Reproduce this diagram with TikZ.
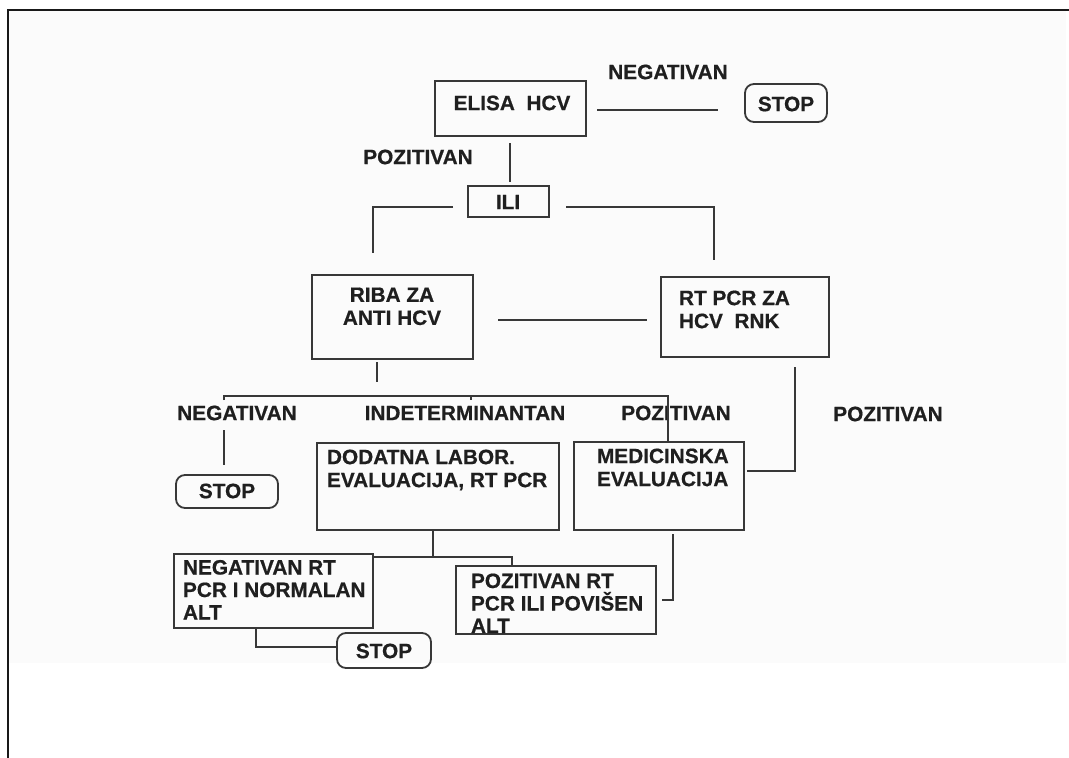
\documentclass[tikz,border=0pt]{standalone}
\usepackage{fontspec}
\setmainfont{Liberation Sans}[BoldFeatures={FakeBold=0.6}]
\begin{document}
\begin{tikzpicture}[x=1pt,y=-1pt,
  box/.style={draw=black!78, line width=1.8pt, inner sep=0pt, outer sep=0pt},
  stopbox/.style={box, rounded corners=9pt},
  lbl/.style={inner sep=0pt, outer sep=0pt, text=black!88, font=\fontsize{20.8}{23}\selectfont\bfseries},
  mtxt/.style={lbl, align=left, anchor=north west},
  conn/.style={draw=black!78, line width=1.8pt}]
\useasboundingbox (0,0) rectangle (1069,758);
\fill[black!1.5] (9,11) rectangle (1066,663);
\draw[line width=1.6pt, black!90] (8,758) -- (8,10) -- (1069,10);

% boxes
\node[box, minimum width=151pt, minimum height=55pt] (elisa) at (510.5,108.5) {};
\node[stopbox, minimum width=82pt, minimum height=38pt] (stop1) at (786,103) {};
\node[box, minimum width=81pt, minimum height=31pt] (ili) at (508.5,201.5) {};
\node[box, minimum width=161pt, minimum height=84pt] (riba) at (392.5,317) {};
\node[box, minimum width=168pt, minimum height=80pt] (rtpcr) at (745,317) {};
\node[stopbox, minimum width=102pt, minimum height=33pt] (stop2) at (227,491.5) {};
\node[box, minimum width=242pt, minimum height=87pt] (dod) at (438,486.5) {};
\node[box, minimum width=170pt, minimum height=88pt] (med) at (659,486) {};
\node[box, minimum width=199pt, minimum height=74pt] (negrt) at (273.5,591) {};
\node[box, minimum width=200pt, minimum height=68pt] (pozrt) at (556,600) {};
\node[stopbox, minimum width=94pt, minimum height=35pt] (stop3) at (384,650.5) {};

% texts in boxes
\node[lbl] (elisa-t) at (512,103) {ELISA\ \ HCV};
\node[lbl] (stop1-t) at (786,104) {STOP};
\node[lbl] (ili-t) at (508,202) {ILI};
\node[lbl, align=center, anchor=north] (riba-t) at (392,287.6) {RIBA ZA\\ANTI HCV};
\node[mtxt] (rtpcr-t) at (679,290.6) {RT PCR ZA\\HCV\ \ RNK};
\node[lbl] (stop2-t) at (227,491) {STOP};
\node[mtxt] (dod-t) at (327,449.6) {DODATNA LABOR.\\EVALUACIJA, RT PCR};
\node[mtxt] (med-t) at (597,448.6) {MEDICINSKA\\EVALUACIJA};
\node[mtxt, font=\fontsize{20.8}{22.5}\selectfont\bfseries] (negrt-t) at (183,560) {NEGATIVAN RT\\PCR I NORMALAN\\ALT};
\node[mtxt, font=\fontsize{20.8}{22.5}\selectfont\bfseries] (pozrt-t) at (471,573.5) {POZITIVAN RT\\PCR ILI POVIŠEN\\ALT};
\node[lbl] (stop3-t) at (384,651) {STOP};

% free labels
\node[lbl] (neg1) at (668,72) {NEGATIVAN};
\node[lbl] (pos1) at (418,157) {POZITIVAN};
\node[lbl] (neg2) at (237,413) {NEGATIVAN};
\node[lbl] (indet) at (465,413) {INDETERMINANTAN};
\node[lbl] (pos2) at (676,413) {POZITIVAN};
\node[lbl] (pos3) at (888,414) {POZITIVAN};

% free connector ends
\coordinate (c1a) at (597,110);
\coordinate (c1b) at (718,110);
\coordinate (c2a) at (510,143);
\coordinate (c2b) at (510,182);
\coordinate (c3a) at (453,207);
\coordinate (c3b) at (373,207);
\coordinate (c3c) at (373,253);
\coordinate (c4a) at (566,207);
\coordinate (c4b) at (714,207);
\coordinate (c4c) at (714,260);
\coordinate (c5a) at (498,320);
\coordinate (c5b) at (647,320);
\coordinate (c6a) at (377,362);
\coordinate (c6b) at (377,382);
\coordinate (c7a) at (224,400);
\coordinate (c7b) at (224,396);
\coordinate (c7c) at (668,396);
\coordinate (c7t) at (471,396);
\coordinate (c7u) at (471,400);
\coordinate (c8a) at (224,430);
\coordinate (c8b) at (224,465);
\coordinate (c9a) at (795,367);
\coordinate (c9b) at (795,471);
\coordinate (c9c) at (747,471);
\coordinate (c10a) at (433,557);
\coordinate (c10b) at (512,557);
\coordinate (c11a) at (673,534);
\coordinate (c11b) at (673,600);
\coordinate (c11c) at (662,600);
\coordinate (c12a) at (256,647);

% connectors
\draw[conn] (c1a) -- (c1b);
\draw[conn] (c2a) -- (c2b);
\draw[conn] (c3a) -- (c3b) -- (c3c);
\draw[conn] (c4a) -- (c4b) -- (c4c);
\draw[conn] (c5a) -- (c5b);
\draw[conn] (c6a) -- (c6b);
\draw[conn] (c7a) -- (c7b) -- (c7c) -- (c7c |- med.north);
\draw[conn] (c7t) -- (c7u);
\draw[conn] (c8a) -- (c8b);
\draw[conn] (c9a) -- (c9b) -- (c9c);
\draw[conn] (dod.south -| c10a) -- (c10a);
\draw[conn] (negrt.east |- c10a) -- (c10b) -- (c10b |- pozrt.north);
\draw[conn] (c11a) -- (c11b) -- (c11c);
\draw[conn] (negrt.south -| c12a) -- (c12a) -- (stop3.west |- c12a);
\end{tikzpicture}
\end{document}
